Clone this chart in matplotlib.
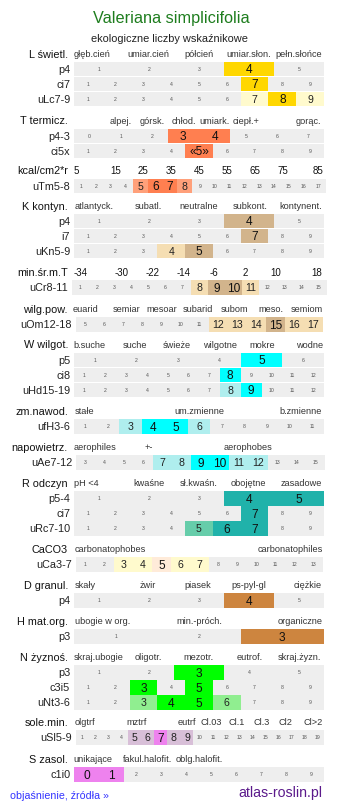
import matplotlib
matplotlib.use("Agg")
import matplotlib.pyplot as plt
from matplotlib.patches import Rectangle

plt.rcParams['font.family'] = ['Liberation Sans', 'DejaVu Sans']

# ---------------- data ----------------
title = "Valeriana simplicifolia"
subtitle = "ekologiczne liczby wskaźnikowe"

L_cats = ["głęb.cień", "umiar.cień", "półcień", "umiar.słon.", "pełn.słońce"]
L_rows = ["p4", "ci7", "uLc7-9"]
L_range = [(1, 5), (1, 9), (1, 9)]
L_main = [[4], [7], [8]]
L_side = [[], [], [7, 9]]

T_cats = ["alpej.", "górsk.", "chłod.", "umiark.", "ciepł.+", "gorąc."]
T_rows = ["p4-3", "ci5x"]
T_range = [(0, 7), (1, 9)]
T_main = [[3, 4], [5]]
T_side = [[], []]
T_text = {("ci5x", 5): "«5»"}

kcal_scale = ["5", "15", "25", "35", "45", "55", "65", "75", "85"]
kcal_rows = ["uTm5-8"]
kcal_range = [(1, 17)]
kcal_main = [[6, 7]]
kcal_side = [[5, 8]]

K_cats = ["atlantyck.", "subatl.", "neutralne", "subkont.", "kontynent."]
K_rows = ["p4", "i7", "uKn5-9"]
K_range = [(1, 5), (1, 9), (1, 9)]
K_main = [[4], [7], [5]]
K_side = [[], [], [4]]

minT_scale = ["-34", "-30", "-22", "-14", "-6", "2", "10", "18"]
minT_rows = ["uCr8-11"]
minT_range = [(1, 15)]
minT_main = [[9, 10]]
minT_side = [[8, 11]]

wilg_cats = ["euarid", "semiar", "mesoar", "subarid", "subom", "meso.", "semiom"]
wilg_rows = ["uOm12-18"]
wilg_range = [(5, 17)]
wilg_main = [[15]]
wilg_side = [[12, 13, 14, 16, 17]]

W_cats = ["b.suche", "suche", "świeże", "wilgotne", "mokre", "wodne"]
W_rows = ["p5", "ci8", "uHd15-19"]
W_range = [(1, 6), (1, 12), (1, 12)]
W_main = [[5], [8], [9]]
W_side = [[], [], [8]]

zm_cats = ["stałe", "um.zmienne", "b.zmienne"]
zm_rows = ["ufH3-6"]
zm_range = [(1, 11)]
zm_main = [[4, 5]]
zm_side = [[3, 6]]

Ae_cats = ["aerophiles", "+-", "aerophobes"]
Ae_rows = ["uAe7-12"]
Ae_range = [(3, 15)]
Ae_main = [[9, 10]]
Ae_side = [[7, 8, 11, 12]]

R_cats = ["pH <4", "kwaśne", "sł.kwaśn.", "obojętne", "zasadowe"]
R_rows = ["p5-4", "ci7", "uRc7-10"]
R_range = [(1, 5), (1, 9), (1, 9)]
R_main = [[4, 5], [7], [6, 7]]
R_side = [[], [], [5]]

Ca_cats = ["carbonatophobes", "carbonatophiles"]
Ca_rows = ["uCa3-7"]
Ca_range = [(1, 13)]
Ca_main = [[5]]
Ca_side = [[3, 4, 6, 7]]

D_cats = ["skały", "żwir", "piasek", "ps-pyl-gl", "ciężkie"]
D_rows = ["p4"]
D_range = [(1, 5)]
D_main = [[4]]
D_side = [[]]

H_cats = ["ubogie w org.", "min.-próch.", "organiczne"]
H_rows = ["p3"]
H_range = [(1, 3)]
H_main = [[3]]
H_side = [[]]

N_cats = ["skraj.ubogie", "oligotr.", "mezotr.", "eutrof.", "skraj.żyzn."]
N_rows = ["p3", "c3i5", "uNt3-6"]
N_range = [(1, 5), (1, 9), (1, 9)]
N_main = [[3], [3, 5], [4, 5]]
N_side = [[], [], [3, 6]]

Sl_cats = ["olgtrf", "mztrf", "eutrf", "Cl.03", "Cl.1", "Cl.3", "Cl2", "Cl>2"]
Sl_rows = ["uSl5-9"]
Sl_range = [(1, 19)]
Sl_main = [[7]]
Sl_side = [[5, 6, 8, 9]]

S_cats = ["unikające", "fakul.halofit.", "oblg.halofit."]
S_rows = ["c1i0"]
S_range = [(0, 9)]
S_main = [[0, 1]]
S_side = [[]]

# ---------------- layout / style ----------------
W_PX, H_PX = 337, 811
GRAY = "#eeeeee"
ROW_H = 14.5
ROW_STEP = 15.0

sections = [
    # header, labels, label x, scale?, rows, ranges, main, side, colours, header baseline
    ("L świetl.", L_cats, [92.3, 148.7, 198.7, 248.8, 299], False,
     L_rows, L_range, L_main, L_side, ("#ffd700", "#fffacd"), 57.5),
    ("T termicz.", T_cats, [120.8, 151.7, 183.5, 214.7, 245.8, 308.8], False,
     T_rows, T_range, T_main, T_side, ("#ff7f50", "#ffa07a"), 124.3),
    ("kcal/cm2*r", kcal_scale, [75.8, 115.5, 143, 170.8, 199, 227, 255, 283, 318.3], True,
     kcal_rows, kcal_range, kcal_main, kcal_side, ("#ff7f50", "#ffa07a"), 174.5),
    ("K kontyn.", K_cats, [94, 148.7, 199, 249.7, 301], False,
     K_rows, K_range, K_main, K_side, ("#d2b48c", "#f5deb3"), 209.5),
    ("min.śr.m.T", minT_scale, [81, 121.7, 152.5, 183.3, 213.7, 245.5, 276, 317], True,
     minT_rows, minT_range, minT_main, minT_side, ("#d2b48c", "#f5deb3"), 276),
    ("wilg.pow.", wilg_cats, [85.5, 126.8, 162, 198.3, 234.5, 270.5, 307], False,
     wilg_rows, wilg_range, wilg_main, wilg_side, ("#d2b48c", "#f5deb3"), 312.7),
    ("W wilgot.", W_cats, [89.3, 135, 177, 220.3, 262, 310], False,
     W_rows, W_range, W_main, W_side, ("#00ffff", "#afeeee"), 348.3),
    ("zm.nawod.", zm_cats, [84.5, 199, 301], False,
     zm_rows, zm_range, zm_main, zm_side, ("#00ffff", "#afeeee"), 415),
    ("napowietrz.", Ae_cats, [94.5, 149, 248.3], False,
     Ae_rows, Ae_range, Ae_main, Ae_side, ("#00ffff", "#afeeee"), 451),
    ("R odczyn", R_cats, [86, 148.8, 198.7, 248.3, 301.7], False,
     R_rows, R_range, R_main, R_side, ("#20b2aa", "#66cdaa"), 486.7),
    ("CaCO3", Ca_cats, [110.3, 290.2], False,
     Ca_rows, Ca_range, Ca_main, Ca_side, ("#ffebd9", "#fffacd"), 552.7),
    ("D granul.", D_cats, [84.8, 148.3, 198, 248.7, 308], False,
     D_rows, D_range, D_main, D_side, ("#cd853f", "#deb887"), 589),
    ("H mat.org.", H_cats, [102.5, 199, 300.2], False,
     H_rows, H_range, H_main, H_side, ("#cd853f", "#deb887"), 625),
    ("N żyznoś.", N_cats, [99, 148.3, 198.5, 249.5, 299.7], False,
     N_rows, N_range, N_main, N_side, ("#00ff00", "#90ee90"), 661),
    ("sole.min.", Sl_cats, [85.3, 136.3, 187, 211.3, 236.7, 261.3, 285.8, 313.3], False,
     Sl_rows, Sl_range, Sl_main, Sl_side, ("#ee82ee", "#d8bfd8"), 726),
    ("S zasol.", S_cats, [93.3, 148, 198.8], False,
     S_rows, S_range, S_main, S_side, ("#ee82ee", "#d8bfd8"), 762.7),
]

# a few rows are a little wider or narrower than the rest
row_extent = {"uTm5-8": (73.5, 326), "uCr8-11": (72, 327), "uOm12-18": (76, 323),
              "uAe7-12": (76, 325), "uCa3-7": (76, 323), "uSl5-9": (76, 324)}


def px(pt):
    return pt * 100 / 72.0


def mid_text(ax, x, yc, s, size, **kw):
    # place text so that the digits/caps are centred on yc
    ax.text(x, yc + 0.36 * px(size), s, fontsize=size, ha=kw.pop("ha", "center"),
            va="baseline", **kw)


fig = plt.figure(figsize=(W_PX / 100, H_PX / 100), dpi=100)
ax = fig.add_axes([0, 0, 1, 1])
ax.set_xlim(0, W_PX)
ax.set_ylim(H_PX, 0)
ax.axis("off")

ax.text(W_PX / 2 + 3, 23.2, title, fontsize=11.7, color="#1e7d1e", ha="center", va="baseline")
ax.text(W_PX / 2 + 0.5, 42.3, subtitle, fontsize=7.9, color="#222222", ha="center", va="baseline")

for (header, cats, cat_x, is_scale, rows, ranges, mains, sides, cols, base) in sections:
    ax.text(68, base, header, fontsize=7.8, color="#111111", ha="right", va="baseline")
    for lab, x in zip(cats, cat_x):
        if is_scale:
            ax.text(x, base, lab, fontsize=7.0, color="#111111", ha="center", va="baseline")
        else:
            ax.text(x, base - 0.6, lab, fontsize=6.6, color="#333333", ha="center", va="baseline")

    top = base + 4.3
    for r, (lab, (first, last), main, side) in enumerate(zip(rows, ranges, mains, sides)):
        y0 = top + r * ROW_STEP
        yc = y0 + ROW_H / 2
        x0, x1 = row_extent.get(lab, (74, 324))
        ax.add_patch(Rectangle((x0, y0), x1 - x0, ROW_H, fc=GRAY, ec="none"))
        mid_text(ax, x0 - 3.8, yc, lab, 7.8, ha="right", color="#222222")
        n = last - first + 1
        w = (x1 - x0) / n
        for i in range(n):
            v = first + i
            cx = x0 + (i + 0.5) * w
            s = T_text.get((lab, v), str(v))
            if v in main:
                ax.add_patch(Rectangle((x0 + i * w, y0), w, ROW_H, fc=cols[0], ec="none"))
                mid_text(ax, cx, yc, s, 8.6, color="#111111")
            elif v in side:
                ax.add_patch(Rectangle((x0 + i * w, y0), w, ROW_H, fc=cols[1], ec="none"))
                mid_text(ax, cx, yc, s, 7.6, color="#222222")
            else:
                mid_text(ax, cx, yc, s, 3.7, color="#555555")

ax.text(10, 799, "objaśnienie, źródła »", fontsize=7.7, color="#3333ff", ha="left", va="baseline")
ax.text(322, 797.3, "atlas-roslin.pl", fontsize=10.2, color="#5b1a8b", ha="right", va="baseline")

fig.savefig("out.png", dpi=100)
